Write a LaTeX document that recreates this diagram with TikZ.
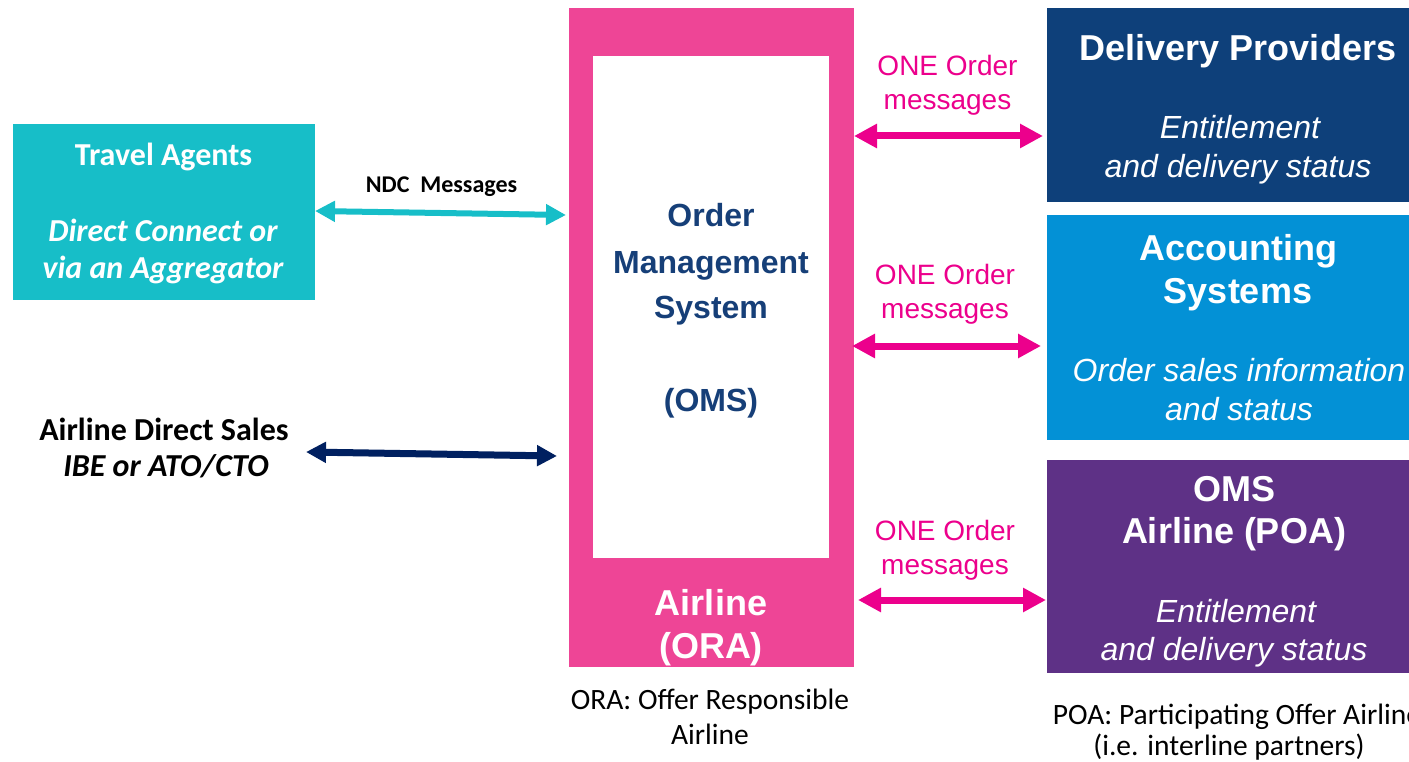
\documentclass[tikz,border=0pt]{standalone}
\usepackage{fontspec}
\setmainfont{Liberation Sans}
\newfontfamily\calibri{Carlito}
\usetikzlibrary{arrows.meta}

\definecolor{orapink}{HTML}{EE4596}
\definecolor{msgpink}{HTML}{EC008C}
\definecolor{agentteal}{HTML}{17BEC8}
\definecolor{delivnavy}{HTML}{0E407A}
\definecolor{acctblue}{HTML}{0391D6}
\definecolor{poapurple}{HTML}{5E3186}
\definecolor{omsblue}{HTML}{163F78}
\definecolor{directnavy}{HTML}{002060}

\tikzset{
  panel/.style={draw=none, inner sep=0pt, outer sep=0pt, anchor=north west},
  txt/.style={anchor=base, inner sep=0pt},
  head/.style={txt, text=white, font=\bfseries\fontsize{36}{40}\selectfont},
  sub/.style={txt, text=white, font=\itshape\fontsize{32}{38}\selectfont},
  omstxt/.style={txt, text=omsblue, font=\bfseries\fontsize{32}{38}\selectfont},
  msg/.style={txt, text=msgpink, font=\fontsize{28}{32}\selectfont},
  calbold/.style={txt, font=\calibri\bfseries\fontsize{32}{38}\selectfont},
  calboldit/.style={txt, font=\calibri\bfseries\itshape\fontsize{32}{38}\selectfont},
  calnote/.style={txt, font=\calibri\fontsize{29.5}{35}\selectfont},
  pinkarrow/.style={draw=msgpink, line width=7pt,
    {Triangle[length=23pt,width=23pt]}-{Triangle[length=23pt,width=23pt]}},
  tealarrow/.style={draw=agentteal, line width=6pt,
    {Triangle[length=20pt,width=20pt]}-{Triangle[length=20pt,width=20pt]}},
  navyarrow/.style={draw=directnavy, line width=7pt,
    {Triangle[length=20pt,width=20pt]}-{Triangle[length=20pt,width=20pt]}},
}

\begin{document}
\begin{tikzpicture}[x=1pt, y=-1pt]
\useasboundingbox (0,0) rectangle (1409,762);

% central order management system of the ORA
\node[panel, fill=orapink, minimum width=285pt, minimum height=659pt] (ora) at (569,8) {};
\node[panel, fill=white, minimum width=236pt, minimum height=502pt] (omsin) at (593,56) {};
\node[omstxt] (o1) at (711,227) {Order};
\node[omstxt] (o2) at (711,273) {Management};
\node[omstxt] (o3) at (711,319) {System};
\node[omstxt] (o4) at (711,411) {(OMS)};
\node[head] (r1) at (711,615) {Airline};
\node[head] (r2) at (711,658) {(ORA)};
\node[calnote] (c1) at (710,709) {ORA: Offer Responsible};
\node[calnote] (c2) at (710,744) {Airline};

% sales channels on the left
\node[panel, fill=agentteal, minimum width=302pt, minimum height=176pt] (ta) at (13,124) {};
\node[calbold, text=white] (ta1) at (163.5,166) {Travel Agents};
\node[calboldit, text=white] (ta2) at (163,242) {Direct Connect or};
\node[calboldit, text=white] (ta3) at (163,279) {via an Aggregator};

\node[calbold] (ds1) at (164,440) {Airline Direct Sales};
\node[calboldit] (ds2) at (166,476) {IBE or ATO/CTO};
\coordinate (dsend) at (306,452);

\node[txt, font=\calibri\bfseries\fontsize{24}{28}\selectfont] (ndc) at (441.5,193) {NDC\ \ Messages};

% partner systems on the right
\node[panel, fill=delivnavy, minimum width=362pt, minimum height=194pt] (dp) at (1047,8) {};
\node[head] (dp1) at (1238,61) {Delivery Providers};
\node[sub] (dp2) at (1240,139) {Entitlement};
\node[sub] (dp3) at (1238,178) {and delivery status};

\node[panel, fill=acctblue, minimum width=362pt, minimum height=225pt] (acc) at (1047,215) {};
\node[head] (ac1) at (1238,261) {Accounting};
\node[head] (ac2) at (1238,303) {Systems};
\node[sub] (ac3) at (1239,381) {Order sales information};
\node[sub] (ac4) at (1239,420) {and status};

\node[panel, fill=poapurple, minimum width=362pt, minimum height=213pt] (poa) at (1047,460) {};
\node[head] (pa1) at (1234,501) {OMS};
\node[head] (pa2) at (1234,543) {Airline (POA)};
\node[sub] (pa3) at (1236,622) {Entitlement};
\node[sub] (pa4) at (1234,660) {and delivery status};
% the partner note runs past the right edge of the page
\node[calnote] (pn1) at (1237,724) {POA: Participating Offer Airline};
\node[calnote] (pn2) at (1229,755) {(i.e. interline partners)};

% message labels
\node[msg] (m1) at (947.5,76) {ONE Order};
\node[msg] (m1b) at (947.5,110) {messages};
\node[msg] (m2) at (945,285) {ONE Order};
\node[msg] (m2b) at (945,319) {messages};
\node[msg] (m3) at (945,540) {ONE Order};
\node[msg] (m3b) at (945,574) {messages};

% connectors
\coordinate (row1) at (0,136);
\coordinate (row2) at (0,346);
\coordinate (row3) at (0,600);
\draw[pinkarrow] (ora.east |- row1) -- ([xshift=-4pt]dp.west |- row1);
\draw[pinkarrow] ([xshift=-2pt]ora.east |- row2) -- ([xshift=-6pt]acc.west |- row2);
\draw[pinkarrow] ([xshift=4pt]ora.east |- row3) -- ([xshift=-1pt]poa.west |- row3);
\draw[tealarrow] ([yshift=1pt]ta.east) -- ([xshift=-3pt,yshift=-3pt]ta.east -| ora.west);
\draw[navyarrow] (dsend) -- ([xshift=-12pt]ora.west |- 0,456);
\end{tikzpicture}
\end{document}
